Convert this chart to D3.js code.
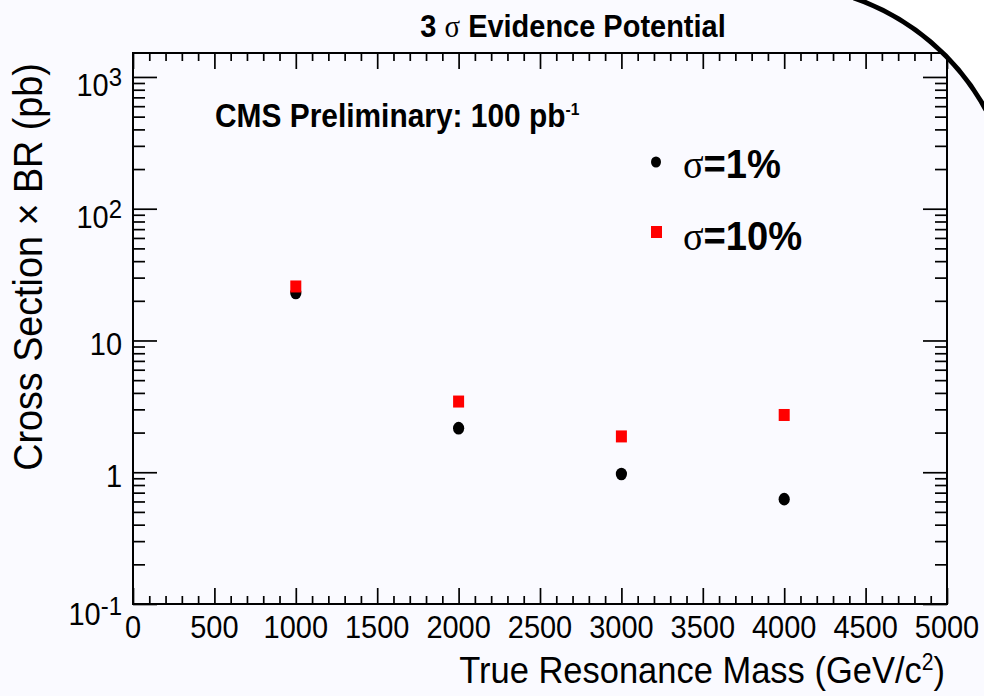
<!DOCTYPE html>
<html>
<head>
<meta charset="utf-8">
<script src="https://cdn.jsdelivr.net/npm/d3@7"></script>
<style>
  html, body { margin: 0; padding: 0; background: #fafaff; }
  svg { display: block; }
  text { font-family: "Liberation Sans", Arial, Helvetica, sans-serif; fill: #000; }
  .sym { font-family: "Liberation Serif", "Times New Roman", serif; font-weight: normal; }
</style>
</head>
<body>
<svg id="chart" width="984" height="696"></svg>
<script>
// Resonance masses (GeV/c^2) and 3-sigma cross section x BR reach (pb)
const masses = [1000, 2000, 3000, 4000];
const xsecSyst1 = [22.9, 2.16, 0.97, 0.625];   // sigma = 1% systematic
const xsecSyst10 = [25.7, 3.44, 1.87, 2.72];   // sigma = 10% systematic

const xMajorTicks = [0, 500, 1000, 1500, 2000, 2500, 3000, 3500, 4000, 4500, 5000];
const xTickLabels = ["0", "500", "1000", "1500", "2000", "2500", "3000", "3500", "4000", "4500", "5000"];
const yMajorTicks = [0.1, 1, 10, 100, 1000];
const yTickBase = ["10", "1", "10", "10", "10"];
const yTickExp = ["-1", "", "", "2", "3"];

const legendLabels = ["1%", "10%"];

const W = 984, H = 696;
const frame = { left: 133, right: 947, top: 53, bottom: 604 };
const SX = 0.92; // horizontal squeeze for the narrow Helvetica look

const svg = d3.select("#chart");
svg.append("rect").attr("width", W).attr("height", H).attr("fill", "#fafaff");

const x = d3.scaleLinear().domain([0, 5000]).range([frame.left, frame.right]);
const y = d3.scaleLog().domain([0.1, 1520]).range([frame.bottom, frame.top]);

// minor tick positions
const xMinor = d3.range(100, 5000, 100).filter(v => v % 500 !== 0);
const yMinor = [];
[0.1, 1, 10, 100, 1000].forEach(d => {
  for (let k = 2; k <= 9; k++) {
    const v = d * k;
    if (v <= 1520) yMinor.push(v);
  }
});

const tickStroke = 1.7;

function styleAxis(g) {
  g.select(".domain").remove();
  g.selectAll(".tick line").attr("stroke", "#000").attr("stroke-width", tickStroke);
  g.selectAll(".tick text").remove();
}

// bottom & top axes (ticks point into the frame)
svg.append("g").attr("transform", `translate(0,${frame.bottom})`)
  .call(d3.axisBottom(x).tickValues(xMajorTicks).tickSize(-16)).call(styleAxis);
svg.append("g").attr("transform", `translate(0,${frame.bottom})`)
  .call(d3.axisBottom(x).tickValues(xMinor).tickSize(-8)).call(styleAxis);
svg.append("g").attr("transform", `translate(0,${frame.top})`)
  .call(d3.axisTop(x).tickValues(xMajorTicks).tickSize(-16)).call(styleAxis);
svg.append("g").attr("transform", `translate(0,${frame.top})`)
  .call(d3.axisTop(x).tickValues(xMinor).tickSize(-8)).call(styleAxis);

// left & right axes
svg.append("g").attr("transform", `translate(${frame.left},0)`)
  .call(d3.axisLeft(y).tickValues(yMajorTicks).tickSize(-24)).call(styleAxis);
svg.append("g").attr("transform", `translate(${frame.left},0)`)
  .call(d3.axisLeft(y).tickValues(yMinor).tickSize(-12)).call(styleAxis);
svg.append("g").attr("transform", `translate(${frame.right},0)`)
  .call(d3.axisRight(y).tickValues(yMajorTicks).tickSize(-24)).call(styleAxis);
svg.append("g").attr("transform", `translate(${frame.right},0)`)
  .call(d3.axisRight(y).tickValues(yMinor).tickSize(-12)).call(styleAxis);

// frame
svg.append("rect")
  .attr("x", frame.left).attr("y", frame.top)
  .attr("width", frame.right - frame.left).attr("height", frame.bottom - frame.top)
  .attr("fill", "none").attr("stroke", "#000").attr("stroke-width", 2);

// positioned, horizontally squeezed text
function label(px, py, size, anchor, rotate) {
  return svg.append("text")
    .attr("transform", `translate(${px},${py})${rotate ? ` rotate(${rotate})` : ""} scale(${SX},1)`)
    .attr("text-anchor", anchor).attr("font-size", size);
}

// x tick labels
xMajorTicks.forEach((d, i) => {
  label(x(d), 638, 31.5, "middle").text(xTickLabels[i]);
});

// y tick labels with exponents
yMajorTicks.forEach((d, i) => {
  const t = label(122, y(d) + (yTickExp[i] ? (i === 0 ? 21 : 19) : 15), 31.5, "end");
  t.append("tspan").text(yTickBase[i]);
  if (yTickExp[i]) t.append("tspan").attr("dy", -10).attr("font-size", 26).text(yTickExp[i]);
});

// axis titles
const xt = label(945, 683, 37.5, "end");
xt.append("tspan").text("True Resonance Mass (GeV/c");
xt.append("tspan").attr("dy", -13).attr("font-size", 23).text("2");
xt.append("tspan").attr("dy", 13).text(")");

label(42, (57 + 477) / 2, 41, "middle", -90).text("Cross Section \u00d7 BR (pb)");

// title
const tt = label(573, 37, 31.5, "middle").attr("font-weight", "bold");
tt.append("tspan").text("3 ");
tt.append("tspan").attr("class", "sym").text("\u03c3");
tt.append("tspan").text(" Evidence Potential");

// CMS label
const cms = label(215, 127, 32.5, "start").attr("font-weight", "bold");
cms.append("tspan").text("CMS Preliminary: 100 pb");
cms.append("tspan").attr("dy", -12).attr("font-size", 17).text("-1");

// data markers
svg.append("g").selectAll("ellipse").data(masses).join("ellipse")
  .attr("cx", d => x(d)).attr("cy", (d, i) => y(xsecSyst1[i]))
  .attr("rx", 5.6).attr("ry", 6.3).attr("fill", "#000");
svg.append("g").selectAll("rect").data(masses).join("rect")
  .attr("x", d => x(d) - 5.5).attr("y", (d, i) => y(xsecSyst10[i]) - 6)
  .attr("width", 11).attr("height", 12).attr("fill", "#ff0000");

// legend
const leg = svg.append("g");
leg.append("ellipse").attr("cx", 656).attr("cy", 162).attr("rx", 5).attr("ry", 5.6).attr("fill", "#000");
leg.append("rect").attr("x", 651).attr("y", 226).attr("width", 11).attr("height", 12).attr("fill", "#ff0000");
[178, 250].forEach((by, i) => {
  const t = label(683, by, 41.5, "start").attr("font-weight", "bold");
  t.append("tspan").attr("class", "sym").text("\u03c3");
  t.append("tspan").text("=" + legendLabels[i]);
});

// page edge curve in the upper-right corner
const cx = 775, cy = 226, r = 240;
const x0 = cx + Math.sqrt(r * r - cy * cy);
const y1 = cy - Math.sqrt(r * r - (W - cx) * (W - cx));
svg.append("path")
  .attr("d", `M${x0},0 A${r},${r} 0 0 1 ${W},${y1} L${W},0 Z`)
  .attr("fill", "#ffffff");
svg.append("path")
  .attr("d", `M${x0 - 2},-2 A${r},${r} 0 0 1 ${W + 2},${y1 + 2}`)
  .attr("fill", "none").attr("stroke", "#000").attr("stroke-width", 5);
</script>
</body>
</html>
